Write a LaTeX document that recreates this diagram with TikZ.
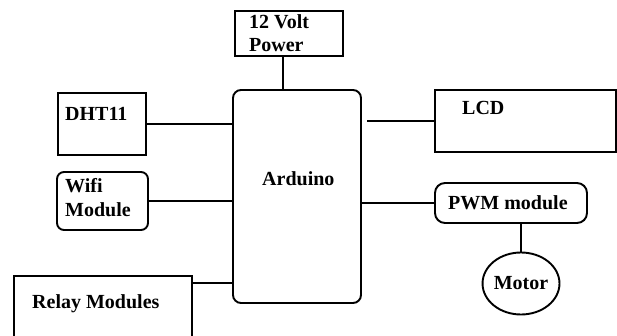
\documentclass[tikz,border=0pt]{standalone}
\usepackage{fontspec}
\setmainfont{Liberation Serif}
\usetikzlibrary{shapes.geometric}
\begin{document}
\begin{tikzpicture}[x=1pt,y=-1pt,
  box/.style={draw, line width=1.9pt, inner sep=0pt, outer sep=0pt},
  lbl/.style={anchor=base west, inner sep=0pt, font=\fontsize{20}{22}\selectfont\bfseries},
  wire/.style={line width=1.9pt}]
\useasboundingbox (0,0) rectangle (617,336);
\clip (0,0) rectangle (617,336);
% boxes
\node[box, minimum width=108pt, minimum height=45pt] (pwr) at (289,33.5) {};
\node[box, rounded corners=8pt, minimum width=128pt, minimum height=213pt] (ard) at (297,196.5) {};
\node[box, minimum width=88pt, minimum height=62pt] (dht) at (102,124) {};
\node[box, minimum width=181pt, minimum height=62pt] (lcd) at (525.5,121) {};
\node[box, rounded corners=7pt, minimum width=91pt, minimum height=58pt] (wifi) at (102.5,201) {};
\node[box, minimum width=178pt, minimum height=84pt] (relay) at (103,318) {};
\node[box, rounded corners=10pt, minimum width=152pt, minimum height=40pt] (pwm) at (511,203) {};
\node[box, ellipse, minimum width=68pt, minimum height=62pt, font=\fontsize{20}{22}\selectfont\bfseries] (motor) at (521,283.5) {Motor};
% labels
\node[lbl] (t12) at (249,29) {12 Volt};
\node[lbl] (tpw) at (249,52) {Power};
\node[lbl] (tdht) at (65,121) {DHT11};
\node[lbl] (tlcd) at (462,115) {LCD};
\node[lbl] (twifi) at (65,193) {Wifi};
\node[lbl] (tmod) at (65,217) {Module};
\node[lbl] (tard) at (262,186) {Arduino};
\node[lbl] (trel) at (32,308) {Relay Modules};
\node[lbl] (tpwm) at (448,210) {PWM module};
% connectors
\draw[wire] ([xshift=-6pt]pwr.south) -- ([xshift=-6pt]pwr.south |- ard.north);
\draw[wire] (dht.east) -- (dht.east -| ard.west);
\draw[wire] (wifi.east) -- (wifi.east -| ard.west);
\draw[wire] ([yshift=-7pt]relay.north east) -- ([yshift=-7pt]relay.north east -| ard.west);
\draw[wire] (lcd.west) -- ([xshift=6pt]lcd.west -| ard.east);
\draw[wire] (pwm.west) -- (pwm.west -| ard.east);
\draw[wire] (motor.north) -- (motor.north |- pwm.south);
\end{tikzpicture}
\end{document}
